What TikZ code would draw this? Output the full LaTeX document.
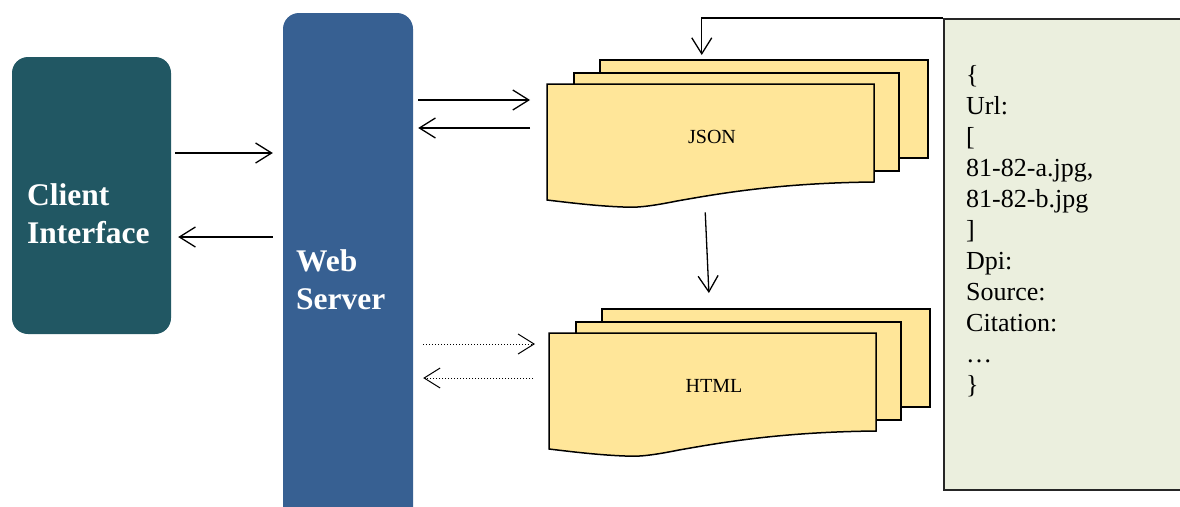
\documentclass[tikz,border=0pt]{standalone}
\usepackage{fontspec}
\setmainfont{Liberation Serif}
\usepackage{xcolor}
\usetikzlibrary{arrows.meta, positioning, calc}

\definecolor{clientteal}{RGB}{33,87,99}
\definecolor{serverblue}{RGB}{55,96,146}
\definecolor{pageyellow}{RGB}{255,230,153}
\definecolor{datagreen}{RGB}{235,239,222}

\tikzset{
  page/.style={draw=black, fill=pageyellow, line width=1.5pt},
  docstack/.pic={
    \node[page, minimum width=328pt, minimum height=98pt, anchor=north west, inner sep=0] (-back) at (52,-25) {};
    \node[page, minimum width=325pt, minimum height=98pt, anchor=north west, inner sep=0] (-mid) at (26,-12) {};
    \draw[page] (0,0) -- (327,0) -- (327,98)
      .. controls (230,99) and (170,110) .. (130,117)
      .. controls (105,122) and (90,124) .. (76,123)
      .. controls (50,122) and (25,119) .. (0,116) -- cycle;
    \node[minimum width=327pt, minimum height=116pt, anchor=north west, inner sep=0] (-page) at (0,0) {};
    \node[font=\fontsize{20}{24}\selectfont] (-text) at (165,53) {#1};
  }
}

\begin{document}
\begin{tikzpicture}[
    x=1pt, y=-1pt,
    box/.style={rounded corners=16pt, inner sep=0},
    label/.style={anchor=west, align=left, inner sep=0, text=white, font=\bfseries\fontsize{31.5}{38}\selectfont},
    arr/.style={-{Straight Barb[length=16pt, width=20pt]}, line width=1.3pt},
    dots/.style={arr, line width=1pt, dash pattern=on 1pt off 2pt}
  ]
  \useasboundingbox (0,0) rectangle (1180,506);

  \node[box, fill=clientteal, minimum width=159pt, minimum height=277pt] (client) at (91.5,195.5) {};
  \node[label] (clientlabel) at (27,214) {Client\\Interface};

  \node[box, fill=serverblue, minimum width=130pt, minimum height=527pt] (server) at (348,276.5) {};
  \node[label] (serverlabel) at (296,280) {Web\\Server};

  \node[draw=black!85, line width=2pt, fill=datagreen, minimum width=256pt, minimum height=471pt, inner sep=0] (data) at (1072,254.5) {};
  \node[anchor=west, align=left, inner sep=0, font=\fontsize{26}{31}\selectfont] (datatext) at (966,231)
    {\{\\Url:\\{[}\\81-82-a.jpg,\\81-82-b.jpg\\{]}\\Dpi:\\Source:\\Citation:\\…\\\}};

  \pic (json) at (547,84) {docstack=JSON};
  \pic (html) at (549,333) {docstack=HTML};

  \draw[arr, shorten <=4pt, shorten >=10pt] (client.east |- 0,153) -- (server.west |- 0,153);
  \draw[arr, shorten <=10pt, shorten >=7pt] (server.west |- 0,237) -- (client.east |- 0,237);

  \draw[arr, shorten <=5pt, shorten >=17pt] (server.east |- 0,100) -- (json-page.west |- 0,100);
  \draw[arr, shorten <=17pt, shorten >=5pt] (json-page.west |- 0,128) -- (server.east |- 0,128);

  \draw[dots, shorten <=10pt, shorten >=14pt] (server.east |- 0,344) -- (html-page.west |- 0,344);
  \draw[dots, shorten <=16pt, shorten >=10pt] (html-page.west |- 0,378) -- (server.east |- 0,378);

  \draw[arr, shorten <=12pt, shorten >=40pt] ([xshift=-6pt]json-page.south) -- ([xshift=-2pt]html-page.north);

  \draw[arr, shorten >=4pt] (data.north west) -| ([xshift=-62pt]json-back.north);
\end{tikzpicture}
\end{document}
